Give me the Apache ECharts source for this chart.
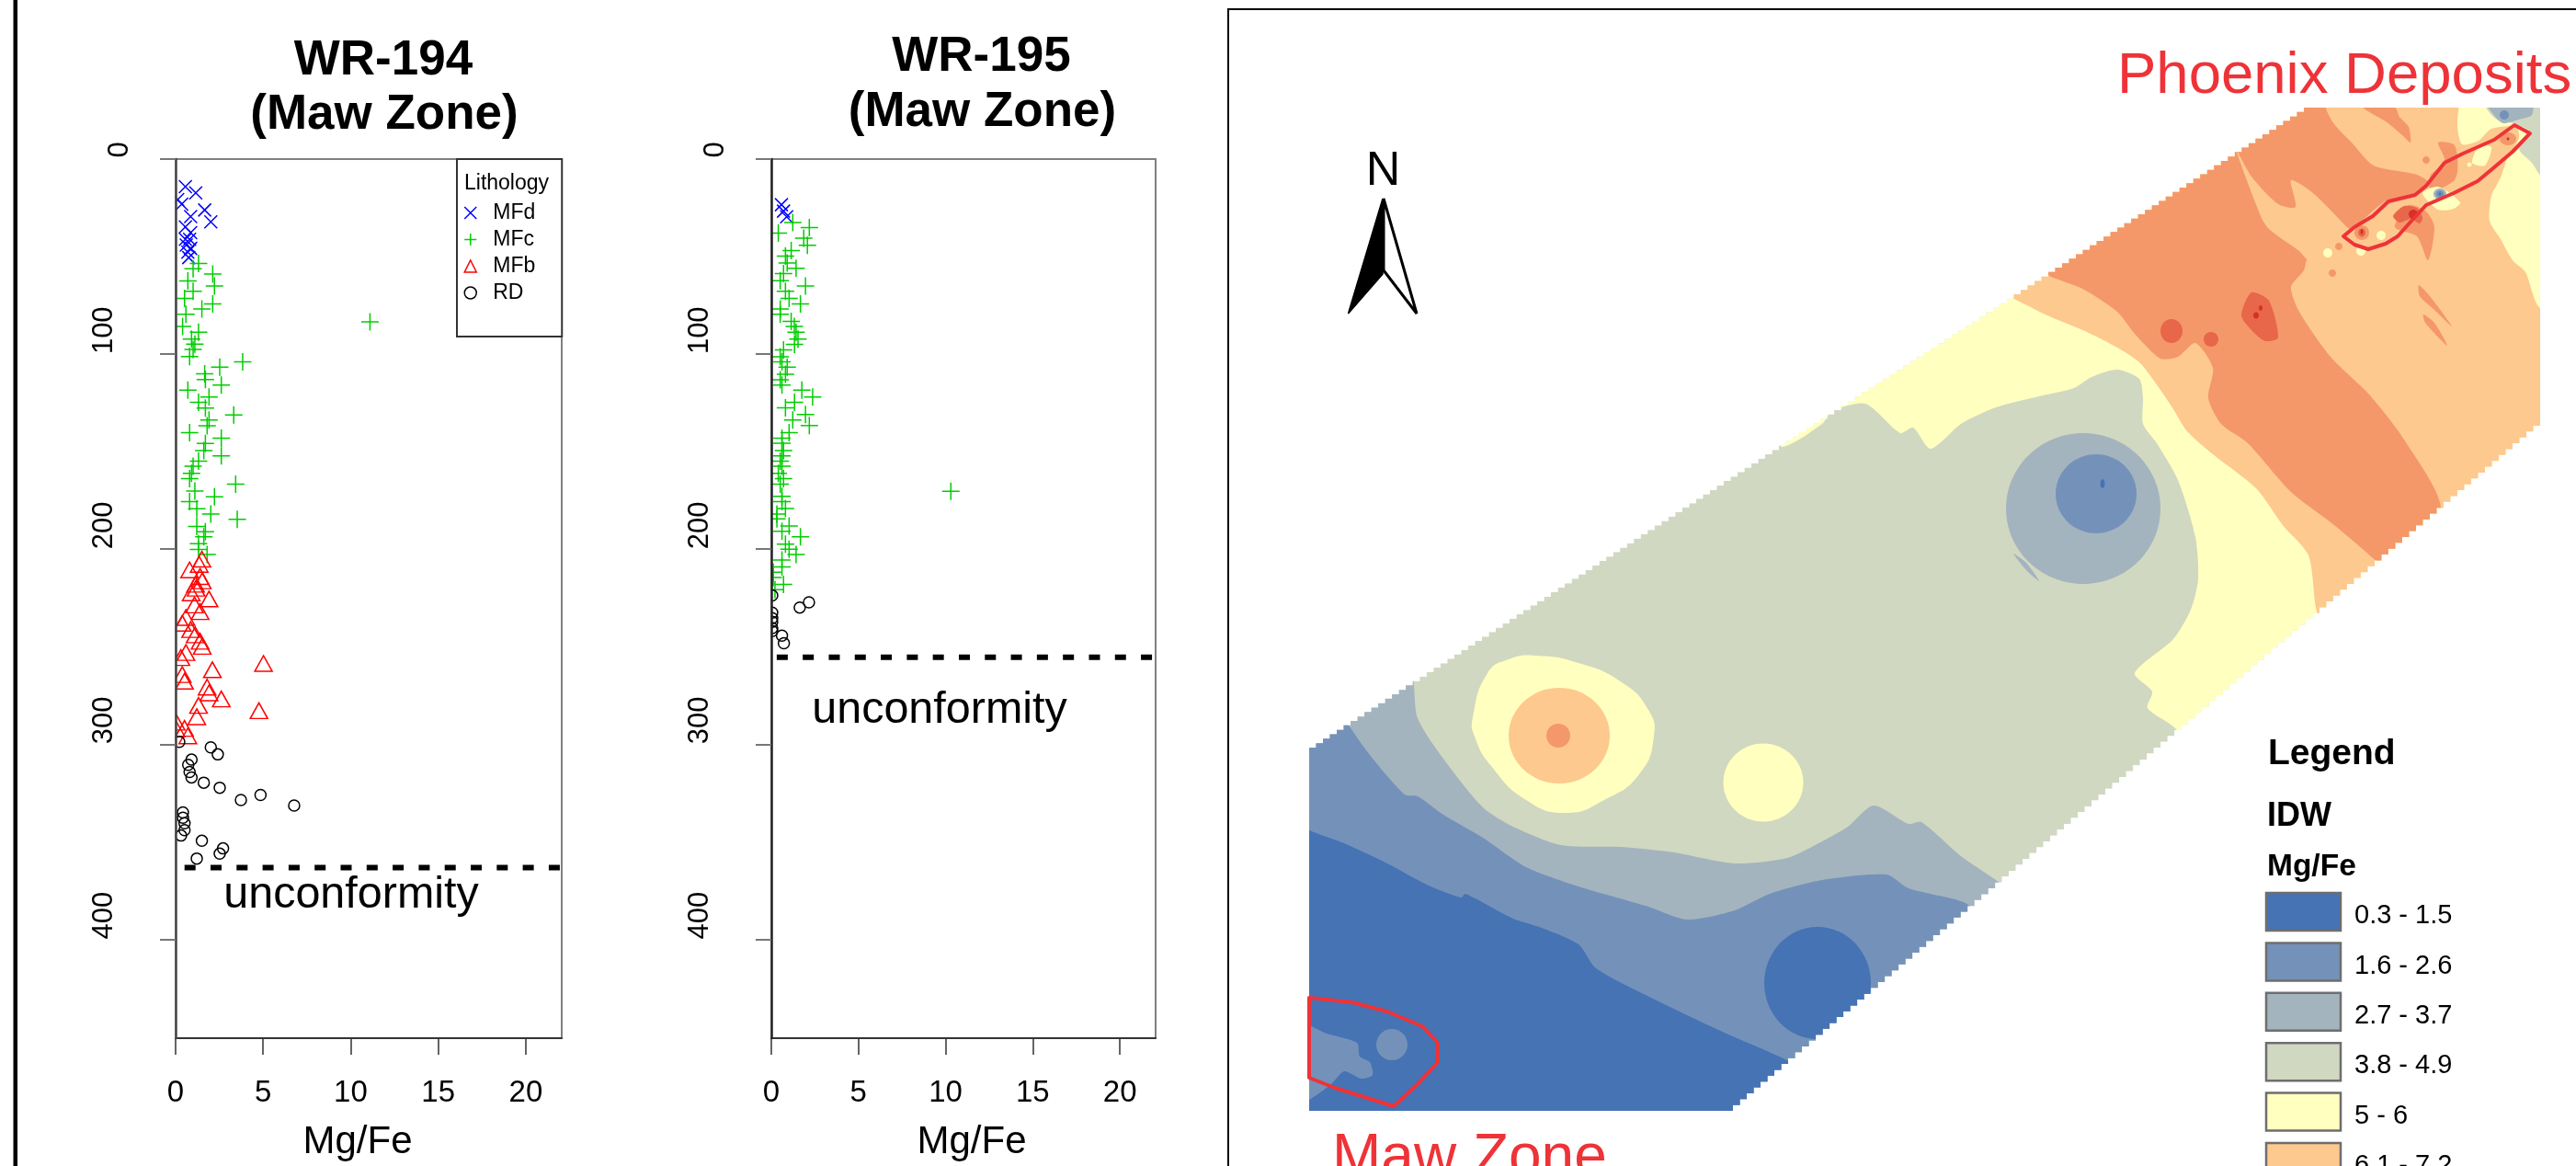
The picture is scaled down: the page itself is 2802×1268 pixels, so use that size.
<!DOCTYPE html>
<html><head><meta charset="utf-8">
<style>html,body{margin:0;padding:0;background:#fff}#c{width:2802px;height:1268px}</style>
<script src="https://cdn.jsdelivr.net/npm/echarts@6/dist/echarts.min.js"></script>
</head><body><div id="c"></div>
<script>
// ---- borehole data: [Mg/Fe, depth] ----
const xTicks=[0,5,10,15,20];
const yTicks=[100,200,300,400];
const lithology=['MFd','MFc','MFb','RD'];
const wr194_MFd=[[.56,14.1],[1.15,17.3],[.12,20.7],[.35,23.1],[1.66,26.1],[.86,29.5],[2.01,32.2],[.56,34.8],[.86,37.7],[.56,41.1],[.8,41.1],[.61,44.1],[.86,45.8],[.7,47.7],[.75,50.5]];
const wr194_MFc=[[1.31,53.5],[1,56.2],[2.12,58.9],[.7,62.5],[2.22,65.1],[1,67.8],[.51,71.4],[2.12,74.2],[1.5,76.9],[.59,79.6],[11.1,83.4],[.4,85.8],[1.31,88.7],[.91,92.3],[1.1,94.9],[1,97.6],[.8,101.2],[3.83,104],[2.52,106.7],[1.66,110.1],[1.7,113],[2.61,115.8],[.7,118.5],[1.91,122],[1.31,124.7],[1.7,127.6],[3.32,131.2],[1.91,133.8],[1.8,136.7],[.8,140.3],[2.61,143.1],[1.7,145.8],[1.61,149.4],[2.61,152.2],[1.31,154.9],[1,157.5],[.91,161.1],[.8,163.8],[3.43,166.6],[1.1,170.2],[2.22,173.1],[.8,175.6],[1.21,179.3],[2.01,182],[3.52,184.7],[1.21,188.3],[1.7,191],[1.61,193.6],[1.31,197.2],[1.31,200.1],[1.8,202.7]];
const wr194_MFb=[[1.5,205.1],[1.35,207.8],[.8,210.6],[1.4,214],[1.52,216.2],[1.14,218],[1.17,220],[.89,222.4],[1.91,225.5],[1.08,228.6],[1.4,232],[.59,235],[.38,238],[.86,241.2],[1.12,243.9],[1.4,247.2],[1.52,249.8],[.59,253],[.3,255.6],[5.02,258.6],[2.1,261.8],[.38,264.3],[.51,267.7],[1.8,270.7],[1.91,273.7],[2.61,276.8],[1.31,280.1],[4.76,282.8],[1.21,285.9],[.03,288.7],[.51,291.9],[.03,292.2],[.7,295.7]];
const wr194_RD=[[.21,298.8],[2.01,301.6],[2.41,305.2],[.91,307.9],[.72,310.6],[.8,314.2],[.91,317],[1.61,319.7],[2.52,322.3],[4.85,326],[3.73,328.6],[6.77,331.4],[.42,335],[.42,337.7],[.51,340.5],[.51,344],[.31,346.8],[1.5,349.5],[2.71,353.4],[2.52,356.1],[1.21,358.6]];
const wr194_unconformity=[[.51,363.3],[22.05,363.3]];
const wr195_MFd=[[.58,23.4],[.7,26.7],[.88,29.6]];
const wr195_MFc=[[1.23,32.5],[2.18,35.1],[.4,38],[1.86,40.6],[2.07,44.2],[1.14,46.9],[.81,49.7],[.91,53.3],[1.42,56],[.7,58.7],[.51,62.3],[1.96,65.1],[.81,67.8],[1.02,71.4],[1.67,74.2],[.51,76.9],[.51,79.5],[1.14,83.2],[1.32,85.8],[1.42,88.7],[1.53,92.3],[1.33,95],[.7,97.8],[.51,101.4],[.61,104],[.91,106.7],[.81,110.3],[.51,113.1],[.61,115.8],[1.75,118.5],[2.37,122],[1.33,124.7],[.81,127.5],[1.96,131],[1.23,133.8],[2.18,136.6],[1.02,140.2],[.61,143.1],[.61,145.7],[.7,149.5],[.61,152.2],[.51,154.9],[.61,157.5],[.4,161.1],[.7,163.8],[.51,166.6],[10.3,170.3],[.61,172.9],[.61,175.6],[.81,179.2],[.32,182],[.32,184.5],[1.02,188.1],[.61,190.8],[1.67,193.6],[.81,197.4],[1.02,200],[1.42,202.7],[.61,205.5],[.61,209.1],[.11,211.8],[.11,214.5],[.7,218.1],[.21,220.8]];
const wr195_RD=[[.05,223.7],[2.16,227.2],[1.63,229.9],[.05,232.5],[.05,235.4],[.05,237.2],[.05,240.4],[.05,242],[.61,244.3],[.72,248.2]];
const wr195_unconformity=[[.31,255.4],[22,255.4]];

// ---- IDW map classes and zones, in map units ----
const idwRanges=['0.3 - 1.5','1.6 - 2.6','2.7 - 3.7','3.8 - 4.9','5 - 6','6.1 - 7.2'];
const idwColors=['#4673b4','#7492b9','#a3b4bf','#d1d8c1','#ffffbf','#fdc98f','#f49869','#e8664a','#d73027'];
const footprint=[[1424,1208],[1424,813],[2506,117],[2763,117],[2763,463],[1885,1208]];
const zone5=[[1925,465],[2500,60],[2810,60],[2810,480],[2385,830],[2367,793],[2336,770],[2341,752],[2322,732],[2364,695],[2383,663],[2391,630],[2388,584],[2369,522],[2346,482],[2331,461],[2331,433],[2327,412],[2303,402],[2275,410],[2256,422],[2218,431],[2171,443],[2133,461],[2100,488],[2081,465],[2067,471],[2029,439],[1993,447],[1982,461],[1939,486]];
const zone6=[[2170,315],[2500,60],[2673,60],[2673,137],[2678,157],[2696,153],[2710,140],[2737,138],[2740,150],[2727,173],[2720,193],[2710,213],[2708,240],[2720,260],[2733,283],[2747,296],[2763,335],[2810,340],[2810,480],[2535,695],[2520,665],[2511,604],[2483,571],[2454,531],[2407,494],[2379,469],[2364,445],[2350,424],[2327,394],[2303,378],[2270,361],[2227,343],[2185,322]];
const zone7=[[2216,290],[2500,70],[2530,70],[2530,117],[2539,135],[2558,155],[2582,180],[2629,190],[2643,200],[2629,212],[2596,218],[2568,241],[2549,255],[2511,278],[2506,294],[2492,312],[2501,339],[2535,388],[2577,429],[2615,478],[2655,555],[2600,625],[2587,612],[2539,571],[2492,535],[2445,482],[2416,461],[2402,433],[2407,400],[2388,373],[2369,388],[2350,390],[2322,363],[2303,339],[2265,314],[2229,300]];
const tongue6=[[2432,162],[2449,192],[2478,222],[2497,225],[2492,196],[2516,210],[2553,247],[2568,261],[2511,282],[2501,273],[2468,249],[2459,235]];
const streaks7=[[[2631,310],[2643,322],[2667,355],[2648,337],[2632,322]],[[2636,342],[2648,351],[2662,376],[2638,351]],[[2571,117],[2605,117],[2610,127],[2620,138],[2622,155],[2613,147],[2595,132]],[[2652,155],[2669,157],[2673,170],[2673,187],[2669,197],[2649,207],[2642,203],[2644,190],[2652,183],[2659,173]],[[2620,223],[2639,230],[2648,247],[2641,283],[2629,257],[2605,247]]];
const blobs8=[[[2449,318],[2468,327],[2478,367],[2464,371],[2449,359],[2438,343]],[[2603,235],[2615,224],[2629,226],[2635,237],[2632,243],[2622,238],[2610,242]]];
const yellowPatches=[[[2635,210],[2652,203],[2676,220],[2669,227],[2652,228]],[[2689,177],[2696,160],[2710,160],[2703,180]]];
const neGreen=[[2703,110],[2770,110],[2770,190],[2763,190],[2754,177],[2740,162],[2754,145],[2737,135],[2716,130],[2706,120]];
const neBlue=[[2704,110],[2754,110],[2754,125],[2740,130],[2723,134],[2715,128]];
const sliver3=[[2190,602],[2204,612],[2218,632],[2204,620]];
const westYellow=[[1641,717],[1670,713],[1717,721],[1764,742],[1793,772],[1799,801],[1783,842],[1745,870],[1703,884],[1660,870],[1622,833],[1604,801],[1602,780],[1618,732]];
const zone3=[[1530,725],[1537,738],[1542,781],[1570,825],[1613,878],[1646,899],[1698,919],[1764,921],[1821,927],[1887,939],[1944,933],[1982,915],[2010,899],[2038,876],[2076,896],[2090,894],[2133,931],[2175,960],[2190,975],[1885,1240],[1400,1240],[1400,760]];
const zone2=[[1460,775],[1466,787],[1490,821],[1528,864],[1542,866],[1570,886],[1613,911],[1660,943],[1717,964],[1793,986],[1835,1000],[1887,990],[1925,972],[1982,957],[2052,951],[2076,966],[2138,982],[2150,1000],[1885,1240],[1400,1240],[1400,790]];
const zone1=[[1400,890],[1424,903],[1462,917],[1509,939],[1552,962],[1589,976],[1594,972],[1646,999],[1674,1008],[1717,1027],[1736,1053],[1802,1088],[1878,1124],[1944,1153],[1960,1165],[1885,1240],[1400,1240]];
const mawPatch=[[1410,1112],[1443,1124],[1476,1134],[1479,1149],[1490,1155],[1493,1169],[1481,1173],[1462,1165],[1448,1179],[1424,1196],[1410,1200]];
// ellipses: [cx, cy, rx, ry]
const ell2_7=[[2362,360,12,13],[2405,369,8,8],[2569,253,4,4.5],[2625,233,5,5]];
const ell6_7=[[2569,253,8,8],[2544,268,4,4],[2639,174,4,4],[2537,297,4,4],[2728,151,9,7],[1695,800,13,13]];
const ellYellow=[[2590,256,5,5],[2532,275,5,5],[2568,273,5,5],[2686,179,2.5,2.5],[1918,851,43.5,42.5]];
const ellOrange=[[1696,800,55,52]];
const ell3=[[2266,553,84,82],[2654,211,7,6]];
const ell2=[[2280,537,44,43],[2654,211,4.5,4],[2724,125,5,5],[1514,1136,17,17]];
const ell1=[[2287,526,2.5,5],[2654,211,1.5,1.5],[1977,1069,58,61]];
const ellDark=[[2454,343,3,3.5],[2459,335,2,3],[2625,233,5,5],[2569,252,1.5,3],[2728,151,1.5,1.5]];
const phoenixOutline=[[2549,257],[2561,247],[2581,235],[2598,219],[2627,212],[2639,202],[2647,192],[2659,177],[2679,167],[2713,152],[2735,136],[2752,145],[2733,165],[2713,182],[2695,197],[2669,210],[2639,223],[2625,238],[2608,257],[2595,265],[2576,271],[2561,266]];
const mawOutline=[[1424,1085],[1471,1090],[1509,1100],[1547,1116],[1564,1134],[1564,1155],[1542,1179],[1516,1203],[1452,1183],[1424,1172]];

// ---- draw list for the map ----
function stairs(pts){ // raster edge of the interpolated grid
  const out=[];
  for(let i=0;i<pts.length;i++){
    const a=pts[i],b=pts[(i+1)%pts.length];
    const dx=b[0]-a[0],dy=b[1]-a[1];
    if(dx===0||dy===0){out.push(a);continue;}
    const n=Math.round(Math.abs(dx)/7.5);
    for(let k=0;k<n;k++){
      const x0=a[0]+dx*k/n,y0=a[1]+dy*k/n,x1=a[0]+dx*(k+1)/n;
      out.push([x0,y0],[x1,y0]);
    }
  }
  return out;
}
const mapItems=[];
const P=(pts,c,smooth)=>mapItems.push({kind:'poly',pts,c:idwColors[c],smooth:smooth===undefined?0.25:smooth});
const E=(list,c)=>list.forEach(e=>mapItems.push({kind:'ell',e,c:idwColors[c]}));
const L=(pts)=>mapItems.push({kind:'line',pts});
P(stairs(footprint),3,0);
P(zone5,4);P(zone6,5);P(zone7,6);P(tongue6,5);
streaks7.forEach(s=>P(s,6));
E(ell6_7.slice(0,5),6);
blobs8.forEach(s=>P(s,7));
E(ell2_7,7);
yellowPatches.forEach(s=>P(s,4));
E(ellYellow.slice(0,4),4);
P(neGreen,3);P(neBlue,2);
E(ellDark,8);
E(ell3,2);P(sliver3,2);E(ell2.slice(0,3),1);E(ell1.slice(0,2),0);
P(westYellow,4,0.5);E(ellOrange,5);E(ell6_7.slice(5),6);E(ellYellow.slice(4),4);
P(zone3,2);P(zone2,1);P(zone1,0);
E(ell1.slice(2),0);
P(mawPatch,1);E(ell2.slice(3),1);
L(phoenixOutline);L(mawOutline);

function renderMap(params,api){
  const it=mapItems[params.dataIndex];
  const clipPts=stairs(footprint).map(p=>api.coord(p));
  if(it.kind==='line'){
    return {type:'polygon',shape:{points:it.pts.map(p=>api.coord(p))},style:{fill:'none',stroke:'#ee3338',lineWidth:4,lineJoin:'round'}};
  }
  const clip={type:'polygon',shape:{points:clipPts}};
  if(it.kind==='poly'){
    return {type:'polygon',shape:{points:it.pts.map(p=>api.coord(p)),smooth:it.smooth},style:{fill:it.c},clipPath:clip};
  }
  const c=api.coord([it.e[0],it.e[1]]);
  return {type:'ellipse',shape:{cx:c[0],cy:c[1],rx:it.e[2],ry:it.e[3]},style:{fill:it.c},clipPath:clip};
}

// ---- symbols ----
const sym={MFd:'path://M0 0L10 10M10 0L0 10',MFc:'path://M5 0L5 10M0 5L10 5',MFb:'path://M5 0L10 10L0 10Z',RD:'circle'};
const symColor={MFd:'#0000ff',MFc:'#00cd00',MFb:'#ff0000',RD:'#000000'};
const symSize={MFd:14,MFc:19,MFb:[19,17],RD:12};
const scatter=(name,data,idx)=>({type:'scatter',name,data,xAxisIndex:idx,yAxisIndex:idx,symbol:sym[name],symbolSize:symSize[name],
  itemStyle:{color:'transparent',borderColor:symColor[name],borderWidth:1.5,opacity:1},clip:true,silent:true});
const dash=(data,idx)=>({type:'line',name:'unconformity',data,xAxisIndex:idx,yAxisIndex:idx,symbol:'none',clip:true,silent:true,
  lineStyle:{color:'#000',width:6,type:[12,16.3],cap:'butt'}});

const FONT='"Liberation Sans",Arial,sans-serif';
const xAxisOpt=(gi)=>({gridIndex:gi,type:'value',min:0,max:22.05,position:'bottom',
  name:'Mg/Fe',nameLocation:'middle',nameGap:92,nameTextStyle:{fontSize:42,color:'#000',fontFamily:FONT,padding:gi===0?[0,24,0,0]:[0,0,0,18]},
  axisLine:{show:true,onZero:false,lineStyle:{color:'#333',width:2}},
  axisTick:{show:true,length:18,customValues:xTicks,lineStyle:{color:'#333',width:1.5}},
  axisLabel:{show:true,customValues:xTicks,fontSize:33,color:'#000',fontFamily:FONT,margin:43},
  splitLine:{show:false}});
const yAxisOpt=(gi)=>({gridIndex:gi,type:'value',min:0,max:450.7,inverse:true,position:'left',z:4,
  axisLine:{show:true,onZero:false,lineStyle:{color:gi===0?'#444':'#222',width:2.5}},
  axisTick:{show:true,length:17,customValues:[0].concat(yTicks),lineStyle:{color:'#777',width:2}},
  axisLabel:{show:true,customValues:yTicks,rotate:90,align:'left',verticalAlign:'middle',fontSize:31,color:'#000',fontFamily:FONT,margin:78},
  splitLine:{show:false}});

// ---- page furniture ----
const T=(text,x,base,size,o={})=>({type:'text',x,y:base-0.3465*size+3.5,silent:true,z:20,style:{text,fill:o.fill||'#000',
  font:(o.bold?'bold ':'')+size+'px '+FONT,textAlign:o.align||'left',textVerticalAlign:'middle'}});
const R=(x,y,w,h,fill,stroke,lw)=>({type:'rect',silent:true,z:19,shape:{x,y,width:w,height:h},style:{fill,stroke:stroke||'none',lineWidth:lw||0}});
const mask=(x,y,w,h)=>({type:'rect',silent:true,z:3,shape:{x,y,width:w,height:h},style:{fill:'#fff'}});
const gfx=[
  mask(176,174,14.5,955),mask(824,174,14.5,955),
  R(14.5,0,4.5,1268,'#000'),
  R(1335,9,2,1259,'#000'),R(1335,9,1467,2,'#000'),
  T('WR-194',417,81.5,53,{bold:true,align:'center'}),T('(Maw Zone)',418,140,53,{bold:true,align:'center'}),
  T('WR-195',1067.5,77.5,53,{bold:true,align:'center'}),T('(Maw Zone)',1068.5,137,53,{bold:true,align:'center'}),
  {type:'text',x:130,y:171.5,rotation:Math.PI/2,silent:true,z:20,style:{text:'0',fill:'#000',font:'31px '+FONT,textAlign:'left',textVerticalAlign:'middle'}},
  {type:'text',x:778.5,y:171.5,rotation:Math.PI/2,silent:true,z:20,style:{text:'0',fill:'#000',font:'31px '+FONT,textAlign:'left',textVerticalAlign:'middle'}},
  T('Lithology',505,204,23),
  T('unconformity',382,987,48.5,{align:'center'}),
  T('unconformity',1022,786,48.5,{align:'center'}),
  T('Phoenix Deposits',2303,102,63.5,{fill:'#ee3338'}),
  T('Maw Zone',1449,1279,64,{fill:'#ee3338'}),
  T('N',1504.5,201,52,{align:'center'}),
  {type:'polygon',silent:true,z:20,shape:{points:[[1504,216],[1466.5,341],[1504,298]]},style:{fill:'#000',stroke:'#000',lineWidth:1.5,lineJoin:'bevel'}},
  {type:'polygon',silent:true,z:20,shape:{points:[[1505,216],[1541,341],[1505,294]]},style:{fill:'#fff',stroke:'#000',lineWidth:3,lineJoin:'bevel'}},
  T('Legend',2467,830,39,{bold:true}),T('IDW',2466,897,36,{bold:true}),T('Mg/Fe',2466,951,33.5,{bold:true})
];
idwRanges.forEach((t,i)=>{
  const y=971+i*54.4;
  gfx.push(R(2465,y,81,41,idwColors[i],'#6e6e6e',2.5));
  gfx.push(T(t,2561,y+31.7,29));
});

const option={
  animation:false,backgroundColor:'#fff',textStyle:{fontFamily:FONT},
  grid:[
    {left:191,top:173,width:420,height:957,show:true,borderColor:'#808080',borderWidth:2,backgroundColor:'transparent'},
    {left:839,top:173,width:418,height:957,show:true,borderColor:'#808080',borderWidth:2,backgroundColor:'transparent'},
    {left:0,top:0,width:2802,height:1268,show:false}
  ],
  xAxis:[xAxisOpt(0),xAxisOpt(1),{gridIndex:2,type:'value',min:0,max:2802,show:false}],
  yAxis:[yAxisOpt(0),yAxisOpt(1),{gridIndex:2,type:'value',min:0,max:1268,inverse:true,show:false}],
  legend:{show:true,left:497,top:173,orient:'vertical',selectedMode:false,itemWidth:25,itemHeight:13,itemGap:6,
    padding:[47,29,36,7.5],borderColor:'#333',borderWidth:2,backgroundColor:'#fff',
    textStyle:{fontSize:23,color:'#000',fontFamily:FONT,padding:[0,0,0,7]},
    data:lithology.map(n=>({name:n,icon:sym[n],itemStyle:{color:'transparent',borderColor:symColor[n],borderWidth:1.5}}))},
  graphic:{elements:gfx},
  series:[
    {type:'custom',name:'IDW Mg/Fe',coordinateSystem:'cartesian2d',xAxisIndex:2,yAxisIndex:2,clip:false,silent:true,renderItem:renderMap,data:mapItems.map((_,i)=>[i]),encode:{x:0,y:0}},
    scatter('MFd',wr194_MFd,0),scatter('MFc',wr194_MFc,0),scatter('MFb',wr194_MFb,0),scatter('RD',wr194_RD,0),dash(wr194_unconformity,0),
    scatter('MFd',wr195_MFd,1),scatter('MFc',wr195_MFc,1),scatter('RD',wr195_RD,1),dash(wr195_unconformity,1)
  ]
};
const chart=echarts.init(document.getElementById('c'),null,{renderer:'canvas'});
chart.setOption(option);
</script></body></html>
